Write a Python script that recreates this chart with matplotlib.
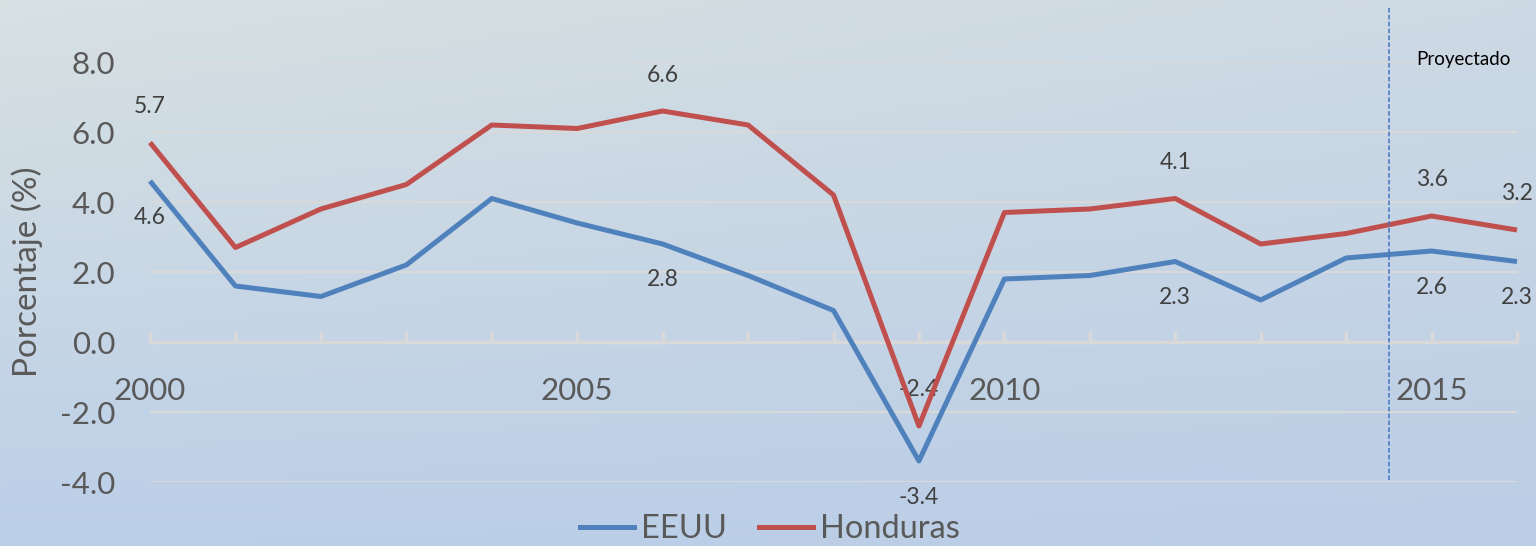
import numpy as np
import matplotlib.pyplot as plt
from matplotlib.lines import Line2D

plt.rcParams['font.family'] = ['Lato', 'DejaVu Sans']

years = list(range(2000, 2017))
eeuu = [4.6, 1.6, 1.3, 2.2, 4.1, 3.4, 2.8, 1.9, 0.9, -3.4, 1.8, 1.9, 2.3, 1.2, 2.4, 2.6, 2.3]
honduras = [5.7, 2.7, 3.8, 4.5, 6.2, 6.1, 6.6, 6.2, 4.2, -2.4, 3.7, 3.8, 4.1, 2.8, 3.1, 3.6, 3.2]
label_years = [2000, 2006, 2009, 2012, 2015, 2016]
proj_start = 2014.5

blue = "#4f81bd"
red = "#c0504d"
txt = "#595959"

fig = plt.figure(figsize=(15.36, 5.46), dpi=100)

# background gradient
bg = fig.add_axes([0, 0, 1, 1], zorder=-10)
tl = np.array([0xd8, 0xe1, 0xe2]) / 255
tr = np.array([0xcd, 0xd9, 0xe4]) / 255
bl = np.array([0xbb, 0xcf, 0xe8]) / 255
br = np.array([0xbb, 0xce, 0xe6]) / 255
u = np.linspace(0, 1, 200)[None, :, None]
v = np.linspace(0, 1, 100)[:, None, None]
grad = (1 - v) * ((1 - u) * tl + u * tr) + v * ((1 - u) * bl + u * br)
bg.imshow(grad, aspect='auto', extent=[0, 1, 0, 1])
bg.axis('off')

ax = fig.add_axes([150 / 1536, 64 / 546, (1517 - 150) / 1536, 420 / 546])
ax.set_facecolor('none')

ax.plot(years, eeuu, color=blue, lw=3.6, solid_capstyle='butt', clip_on=False, zorder=3)
ax.plot(years, honduras, color=red, lw=3.6, solid_capstyle='butt', clip_on=False, zorder=4)

for yr in label_years:
    i = years.index(yr)
    ax.annotate(f"{honduras[i]:.1f}", (yr, honduras[i]), xytext=(0, 36), textcoords='offset pixels',
                ha='center', va='center', fontsize=16.5, color='#404040', annotation_clip=False)
    ax.annotate(f"{eeuu[i]:.1f}", (yr, eeuu[i]), xytext=(0, -36), textcoords='offset pixels',
                ha='center', va='center', fontsize=16.5, color='#404040', annotation_clip=False)

ax.set_xlim(2000, 2016)
ax.set_ylim(-4, 8)
ax.set_yticks(np.arange(-4, 8.1, 2))
ax.set_yticklabels([f"{t:.1f}" for t in np.arange(-4, 8.1, 2)])
ax.grid(axis='y', color='#d9d9d9', lw=1.5)
ax.set_axisbelow(True)

ax.set_xticks(years)
ax.set_xticklabels([str(y) if y % 5 == 0 else '' for y in years])
for s in ['top', 'right', 'left']:
    ax.spines[s].set_visible(False)
ax.spines['bottom'].set_position(('data', 0))
ax.spines['bottom'].set_color('#d9d9d9')
ax.spines['bottom'].set_linewidth(2.5)
ax.tick_params(axis='x', direction='in', length=8, width=2.5, color='#d9d9d9',
               labelsize=22.5, labelcolor=txt, pad=25)
ax.tick_params(axis='y', length=0, labelsize=22.5, labelcolor=txt, pad=25)
ax.set_ylabel("Porcentaje (%)", fontsize=24, color=txt)
ax.yaxis.set_label_coords(-0.078, 0.5)

# projection marker
ax.plot([proj_start, proj_start], [9.55, -3.95], color="#4472c4", lw=1.1, ls=(0, (3, 1.5)),
        clip_on=False, zorder=5)
ax.text(2015.37, 8.06, "Proyectado", fontsize=13.5, color='black', ha='center', va='center')

handles = [Line2D([], [], color=blue, lw=3.6), Line2D([], [], color=red, lw=3.6)]
fig.legend(handles, ["EEUU", "Honduras"], loc='center', bbox_to_anchor=(770 / 1536, 1 - 529 / 546),
           ncol=2, frameon=False, fontsize=23.5, labelcolor=txt, handlelength=1.65,
           handletextpad=0.2, columnspacing=1.0)

fig.savefig("out.png", dpi=100)
